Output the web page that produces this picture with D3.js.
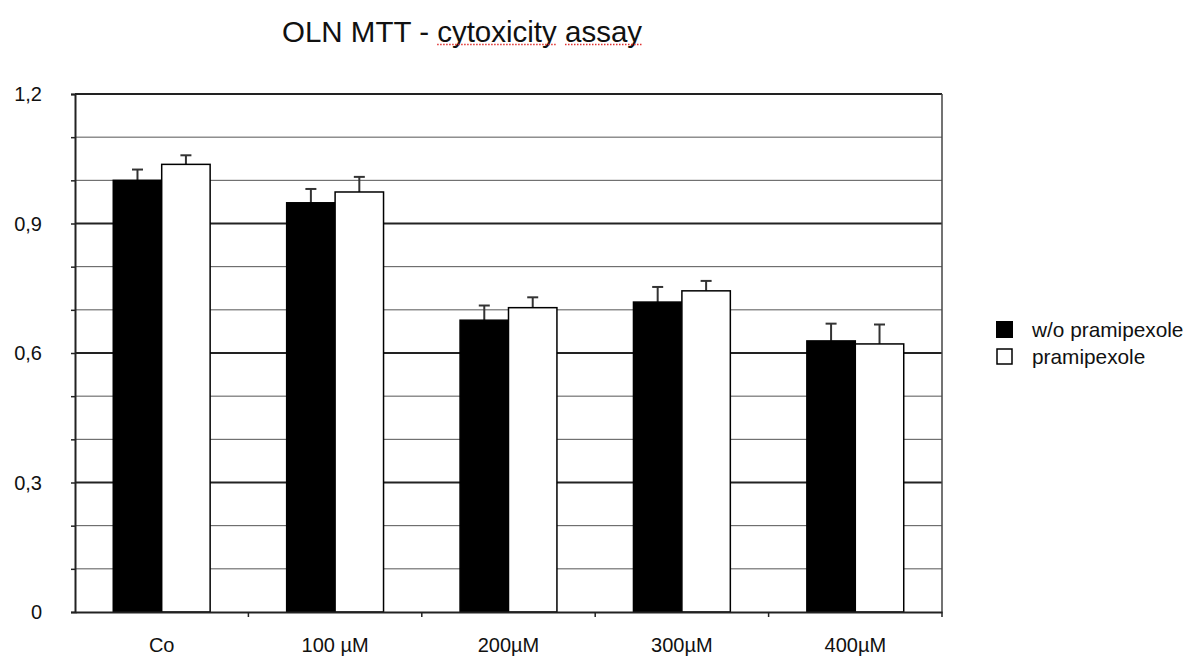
<!DOCTYPE html>
<html>
<head>
<meta charset="utf-8">
<script src="https://cdn.jsdelivr.net/npm/d3@7"></script>
<style>
  body { margin: 0; background: #fff; }
  text { font-family: "Liberation Sans", Arial, sans-serif; }
</style>
</head>
<body>
<svg id="chart"></svg>
<script>
var W = 1189, H = 657;

// data
var categories = ["Co", "100 µM", "200µM", "300µM", "400µM"];
var seriesNames = ["w/o pramipexole", "pramipexole"];
var withoutVals = [1.0, 0.948, 0.676, 0.718, 0.628];
var withoutErr  = [0.025, 0.032, 0.034, 0.035, 0.040];
var withVals    = [1.037, 0.973, 0.705, 0.744, 0.621];
var withErr     = [0.021, 0.035, 0.024, 0.023, 0.045];
var yTicks = [0, 0.3, 0.6, 0.9, 1.2];
var yTickLabels = ["0", "0,3", "0,6", "0,9", "1,2"];
var gridVals = [0.1, 0.2, 0.3, 0.4, 0.5, 0.6, 0.7, 0.8, 0.9, 1.0, 1.1, 1.2];

var plotLeft = 75, plotRight = 942, plotTop = 94, plotBottom = 612;

var svg = d3.select("#chart")
  .attr("width", W)
  .attr("height", H);

var x = d3.scaleBand()
  .domain(categories)
  .range([plotLeft, plotRight])
  .paddingInner(0)
  .paddingOuter(0);

var xs = d3.scaleBand()
  .domain([0, 1])
  .range([0, x.bandwidth()])
  .paddingInner(0)
  .paddingOuter(0.79);

var y = d3.scaleLinear()
  .domain([0, 1.2])
  .range([plotBottom, plotTop]);

// gridlines
svg.append("g")
  .selectAll("line")
  .data(gridVals)
  .join("line")
  .attr("x1", plotLeft)
  .attr("x2", plotRight)
  .attr("y1", d => y(d))
  .attr("y2", d => y(d))
  .attr("stroke", d => (Math.round(d * 10) % 3 == 0) ? "#222" : "#555")
  .attr("stroke-width", d => (Math.round(d * 10) % 3 == 0) ? 1.8 : 1);

// right border
svg.append("line")
  .attr("x1", plotRight).attr("x2", plotRight)
  .attr("y1", plotTop).attr("y2", plotBottom)
  .attr("stroke", "#444")
  .attr("stroke-width", 1.5);

// y axis
var yAxis = d3.axisLeft(y)
  .tickValues(d3.range(0, 13).map(i => i / 10))
  .tickSize(4)
  .tickFormat("");
var ya = svg.append("g")
  .attr("transform", "translate(" + plotLeft + ",0)")
  .call(yAxis);
ya.select(".domain").attr("stroke", "#222").attr("stroke-width", 2);
ya.selectAll(".tick line").attr("stroke", "#222").attr("stroke-width", 1.5);

svg.append("g")
  .selectAll("text")
  .data(yTicks)
  .join("text")
  .attr("x", 42)
  .attr("y", d => y(d))
  .attr("dy", "0.35em")
  .attr("text-anchor", "end")
  .attr("font-size", 20)
  .attr("fill", "#111")
  .text((d, i) => yTickLabels[i]);

// bars
var groups = svg.append("g")
  .selectAll("g")
  .data(categories)
  .join("g")
  .attr("transform", d => "translate(" + x(d) + ",0)");

var series = [
  { vals: withoutVals, err: withoutErr, fill: "#000" },
  { vals: withVals, err: withErr, fill: "#fff" }
];

series.forEach(function (s, si) {
  // error bars first so the bar covers the stem bottom
  groups.append("line")
    .attr("x1", xs(si) + xs.bandwidth() / 2)
    .attr("x2", xs(si) + xs.bandwidth() / 2)
    .attr("y1", (d, i) => y(s.vals[i]))
    .attr("y2", (d, i) => y(s.vals[i] + s.err[i]))
    .attr("stroke", "#333")
    .attr("stroke-width", 2);
  groups.append("line")
    .attr("x1", xs(si) + xs.bandwidth() / 2 - 5.5)
    .attr("x2", xs(si) + xs.bandwidth() / 2 + 5.5)
    .attr("y1", (d, i) => y(s.vals[i] + s.err[i]))
    .attr("y2", (d, i) => y(s.vals[i] + s.err[i]))
    .attr("stroke", "#333")
    .attr("stroke-width", 2);
  groups.append("rect")
    .attr("x", xs(si))
    .attr("width", xs.bandwidth())
    .attr("y", (d, i) => y(s.vals[i]))
    .attr("height", (d, i) => plotBottom - y(s.vals[i]))
    .attr("fill", s.fill)
    .attr("stroke", "#000")
    .attr("stroke-width", 1.5);
});

// x axis
var xAxis = d3.axisBottom(x).tickSize(0).tickFormat("");
var xa = svg.append("g")
  .attr("transform", "translate(0," + plotBottom + ")")
  .call(xAxis);
xa.select(".domain").attr("stroke", "#222").attr("stroke-width", 2);

svg.append("g")
  .selectAll("line")
  .data(d3.range(1, categories.length + 1))
  .join("line")
  .attr("x1", d => plotLeft + d * x.step())
  .attr("x2", d => plotLeft + d * x.step())
  .attr("y1", plotBottom)
  .attr("y2", plotBottom + 5)
  .attr("stroke", "#222")
  .attr("stroke-width", 1.5);

svg.append("g")
  .selectAll("text")
  .data(categories)
  .join("text")
  .attr("x", d => x(d) + x.bandwidth() / 2)
  .attr("y", 645)
  .attr("dy", "0.35em")
  .attr("text-anchor", "middle")
  .attr("font-size", 20)
  .attr("fill", "#111")
  .text(d => d);

// legend
var legend = svg.append("g").attr("transform", "translate(996,321)");
legend.selectAll("rect")
  .data(seriesNames)
  .join("rect")
  .attr("x", (d, i) => i == 0 ? 0 : 1)
  .attr("y", (d, i) => i * 27 + (i == 0 ? 0 : 1))
  .attr("width", (d, i) => i == 0 ? 17 : 15)
  .attr("height", (d, i) => i == 0 ? 17 : 15)
  .attr("fill", (d, i) => series[i].fill)
  .attr("stroke", "#000")
  .attr("stroke-width", (d, i) => i == 0 ? 0 : 1.5);
legend.selectAll("text")
  .data(seriesNames)
  .join("text")
  .attr("x", 36)
  .attr("y", (d, i) => i * 27 + 8.5)
  .attr("dy", "0.35em")
  .attr("font-size", 20.8)
  .attr("fill", "#111")
  .text(d => d);

// title
var title = svg.append("text")
  .attr("x", 282)
  .attr("y", 42)
  .attr("font-family", "Lato, 'Open Sans', sans-serif")
  .attr("font-size", 29.5)
  .attr("fill", "#111");
title.append("tspan").text("OLN MTT - ");
title.append("tspan").attr("id", "squig").text("cytoxicity assay");

// spell-check style dotted underline
var sq = title.select("#squig").node();
var start = sq.getStartPositionOfChar(0).x;
var wordEnd = sq.getEndPositionOfChar(9).x;
var secStart = sq.getStartPositionOfChar(11).x;
var end = sq.getEndPositionOfChar(15).x;
[[start, wordEnd], [secStart, end]].forEach(function (seg) {
  svg.append("line")
    .attr("x1", seg[0]).attr("x2", seg[1])
    .attr("y1", 44.5).attr("y2", 44.5)
    .attr("stroke", "#e03030")
    .attr("stroke-width", 1.5)
    .attr("stroke-dasharray", "1.5,1.5");
});
</script>
</body>
</html>
